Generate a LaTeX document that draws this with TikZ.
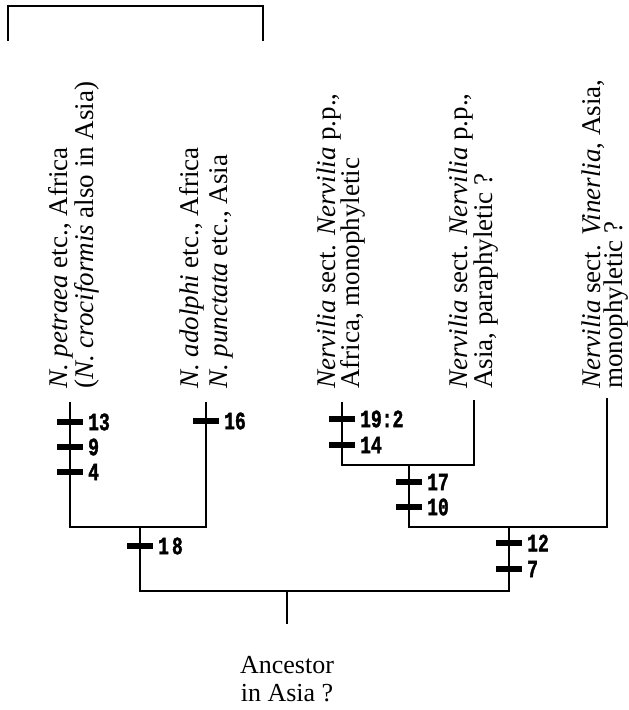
\documentclass[tikz,border=0pt]{standalone}
\usepackage{fontspec}
\setmainfont{Liberation Serif}
\newfontfamily\numfont[FakeStretch=0.72,FakeBold=1.5]{Liberation Mono}
\begin{document}
\begin{tikzpicture}[x=1pt,y=-1pt,
  branch/.style={line width=2.4pt,line join=miter,line cap=rect},
  tickbar/.style={line width=6pt},
  numlabel/.style={anchor=west,inner sep=0pt,font=\numfont\bfseries\fontsize{25}{25}\selectfont},
  taxon/.style={rotate=90,anchor=base west,inner sep=0pt,font=\fontsize{27}{30}\selectfont},
  ancestor/.style={align=center,inner sep=0pt,font=\fontsize{26}{28}\selectfont}]
\useasboundingbox (0,0) rectangle (629,710);
% top bracket
\coordinate (brl) at (8,40);
\coordinate (brr) at (263,40);
\coordinate (brtop) at (135,6);
\draw[branch] (brl) |- (brtop) -| (brr);
% leaves
\coordinate (L1) at (70,403);
\coordinate (L2) at (206,403);
\coordinate (L3) at (342,403);
\coordinate (L4) at (474,401);
\coordinate (L5) at (607,399);
% internal nodes
\coordinate (A) at (140,527);
\coordinate (B) at (409,465);
\coordinate (C) at (509,527);
\coordinate (R) at (287,591);
\coordinate (root) at (287,623);
\draw[branch] (L1) |- (A) -| (L2);
\draw[branch] (L3) |- (B) -| (L4);
\draw[branch] (B) |- (C) -| (L5);
\draw[branch] (A) |- (R) -| (C);
\draw[branch] (R) -- (root);
% ticks
\newcommand\mytick[4]{%
  \draw[tickbar] (#2-13,#3) -- (#2+13,#3);
  \node[numlabel] (#1) at (#2+18,#3) {#4};}
\mytick{t13}{70}{422}{13}
\mytick{t9}{70}{447}{9}
\mytick{t4}{70}{472}{4}
\mytick{t16}{206}{421}{16}
\mytick{t18}{140}{546}{1\hspace{3pt}8}
\mytick{t19}{342}{419}{19:2}
\mytick{t14}{342}{445}{14}
\mytick{t17}{409}{482}{17}
\mytick{t10}{409}{507}{10}
\mytick{t12}{509}{543}{12}
\mytick{t7}{509}{569}{7}
% taxon labels
\node[taxon] (a1) at (67,389) {\textit{N. petraea} etc., Africa};
\node[taxon] (a2) at (93,389) {(\textit{N. crociformis} also in Asia)};
\node[taxon] (b1) at (198,389) {\textit{N. adolphi} etc., Africa};
\node[taxon] (b2) at (227,389) {\textit{N. punctata} etc., Asia};
\node[taxon] (c1) at (335,389) {\textit{Nervilia} sect. \textit{Nervilia} p.p.,};
\node[taxon] (c2) at (359,389) {Africa, monophyletic};
\node[taxon] (d1) at (467,389) {\textit{Nervilia} sect. \textit{Nervilia} p.p.,};
\node[taxon] (d2) at (492,389) {Asia, paraphyletic ?};
\node[taxon] (e1) at (600,389) {\textit{Nervilia} sect. \textit{Vinerlia}, Asia,};
\node[taxon] (e2) at (622,389) {monophyletic ?};
% ancestor
\node[ancestor,anchor=base] (anc1) at (287,673) {Ancestor};
\node[ancestor,anchor=base] (anc2) at (287,701) {in Asia ?};
\end{tikzpicture}
\end{document}
